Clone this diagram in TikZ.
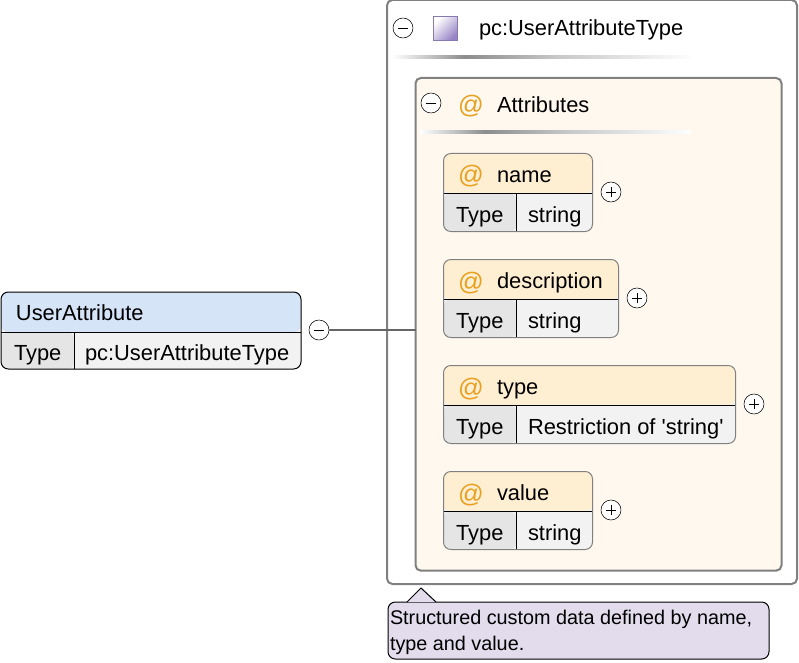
\documentclass[tikz,border=0pt]{standalone}
\usepackage{xcolor}
\usepackage{fontspec}
\setmainfont{Liberation Sans}
\usetikzlibrary{calc,positioning}
\definecolor{FrameGrey}{RGB}{128,128,128}
\definecolor{AttrBack}{RGB}{255,248,238}
\definecolor{AttrHead}{RGB}{255,239,210}
\definecolor{ElemHead}{RGB}{214,228,247}
\definecolor{KeyCell}{RGB}{229,229,229}
\definecolor{ValCell}{RGB}{242,242,242}
\definecolor{TipBack}{RGB}{226,220,236}
\definecolor{AtOrange}{RGB}{232,160,32}
\definecolor{IconEdge}{RGB}{136,120,176}
\definecolor{IconFill}{RGB}{150,130,196}
\pgfdeclarehorizontalshading{sepfade}{100bp}{color(0bp)=(white); color(25bp)=(white);
  color(37bp)=(black!45); color(52bp)=(black!22); color(75bp)=(white); color(100bp)=(white)}

\begin{document}
\begin{tikzpicture} [x=0.75pt, y=-0.75pt, text=black,
	   every node/.style={font=\fontsize{16.4}{19}\selectfont, inner sep=0pt, outer sep=0pt},
	   textlabel/.style = {anchor=base west},
	   atsign/.style = {anchor=base west, text=AtOrange, font=\fontsize{19}{21}\selectfont},
	   expander/.style = {circle, draw=black, fill=white, minimum size=15pt},
	   collapse/.style = {expander, path picture={
	                      \draw[black] ([shift={(5,0)}]path picture bounding box.west) -- ([shift={(-5,0)}]path picture bounding box.east);}},
	   expand/.style = {expander, path picture={
	                      \draw[black] ([shift={(5,0)}]path picture bounding box.west) -- ([shift={(-5,0)}]path picture bounding box.east);
	                      \draw[black] ([shift={(0,5)}]path picture bounding box.north) -- ([shift={(0,-5)}]path picture bounding box.south);}},
	   sepline/.style = {anchor=west, minimum height=1.6pt, shading=sepfade},
	   framebox/.style = {rectangle, rounded corners=4pt, draw=FrameGrey, line width=1.5pt, anchor=north west},
	   groupbox/.style n args = {4}{rectangle, rounded corners=5.5pt, anchor=north west, draw=#2, fill=ValCell,
	                             minimum width=#1*0.75pt, minimum height=#4*0.75pt, line width=0.75pt,
	                             path picture={
	                               \fill[#3] (path picture bounding box.north west) rectangle ([shift={(0,40)}]path picture bounding box.north east);
	                               \fill[KeyCell] ([shift={(0,40)}]path picture bounding box.north west) rectangle ([shift={(73,0)}]path picture bounding box.south west);
	                               \draw[black] ([shift={(0,40)}]path picture bounding box.north west) -- ([shift={(0,40)}]path picture bounding box.north east);
	                               \draw[black] ([shift={(73,40)}]path picture bounding box.north west) -- ([shift={(73,0)}]path picture bounding box.south west);}}]
	\useasboundingbox (0,0) rectangle (799,663);

	%% Type frame
	\node [framebox, minimum width=307.5pt, minimum height=438pt] (typeframe) at (387,0) {};
	\node [collapse] (typecollapse) at (403,28) {};
	\node [draw=IconEdge, line width=0.75pt, minimum size=18pt, left color=white, right color=IconFill, shading angle=45] (typeicon) at (445.5,28.5) {};
	\node [textlabel] (typetitle) at (479,36) {pc:UserAttributeType};
	\node [sepline, minimum width=227pt] (typesep) at (392,57) {};

	%% Attributes frame
	\node [framebox, fill=AttrBack, minimum width=274.5pt, minimum height=369.5pt] (attrs) at (415.5,78) {};
	\node [collapse] (attrscollapse) at (431,103) {};
	\node [atsign] (attrsicon) at (458,114) {@};
	\node [textlabel] (attrstitle) at (497,113) {Attributes};
	\node [sepline, minimum width=203pt] (attrssep) at (420,132) {};

	%% Attribute name
	\node [groupbox={149}{FrameGrey}{AttrHead}{78}] (name) at (443.5,153.5) {};
	\node [atsign] (nameicon) at ([shift={(14.5,30.5)}]name.north west) {@};
	\node [textlabel] (namelabel) at ([shift={(53.5,29)}]name.north west) {name};
	\node [textlabel] (namekey) at ([shift={(12.5,69)}]name.north west) {Type};
	\node [textlabel] (nametype) at ([shift={(84.5,69)}]name.north west) {string};
	\node [expand] (nameexpand) at (611,192) {};

	%% Attribute description
	\node [groupbox={175}{FrameGrey}{AttrHead}{78}] (descr) at (443.5,259.5) {};
	\node [atsign] (descricon) at ([shift={(14.5,30.5)}]descr.north west) {@};
	\node [textlabel] (descrlabel) at ([shift={(53.5,29)}]descr.north west) {description};
	\node [textlabel] (descrkey) at ([shift={(12.5,69)}]descr.north west) {Type};
	\node [textlabel] (descrtype) at ([shift={(84.5,69)}]descr.north west) {string};
	\node [expand] (descrexpand) at (637,298) {};

	%% Attribute type
	\node [groupbox={292}{FrameGrey}{AttrHead}{78}] (kind) at (443.5,365.5) {};
	\node [atsign] (kindicon) at ([shift={(14.5,30.5)}]kind.north west) {@};
	\node [textlabel] (kindlabel) at ([shift={(53.5,29)}]kind.north west) {type};
	\node [textlabel] (kindkey) at ([shift={(12.5,69)}]kind.north west) {Type};
	\node [textlabel] (kindtype) at ([shift={(84.5,69)}]kind.north west) {Restriction of \textquotesingle string\textquotesingle};
	\node [expand] (kindexpand) at (754,404) {};

	%% Attribute value
	\node [groupbox={149}{FrameGrey}{AttrHead}{78}] (value) at (443.5,471.5) {};
	\node [atsign] (valueicon) at ([shift={(14.5,30.5)}]value.north west) {@};
	\node [textlabel] (valuelabel) at ([shift={(53.5,29)}]value.north west) {value};
	\node [textlabel] (valuekey) at ([shift={(12.5,69)}]value.north west) {Type};
	\node [textlabel] (valuetype) at ([shift={(84.5,69)}]value.north west) {string};
	\node [expand] (valueexpand) at (611,510) {};

	%% Element
	\node [groupbox={300}{black}{ElemHead}{77}] (element) at (1,292) {};
	\node [textlabel] (elementlabel) at ([shift={(15,28)}]element.north west) {UserAttribute};
	\node [textlabel] (elementkey) at ([shift={(13,68)}]element.north west) {Type};
	\node [textlabel] (elementtype) at ([shift={(84,68)}]element.north west) {pc:UserAttributeType};
	\node [collapse] (elementcollapse) at (319,330) {};

	%% Note
	\node [rectangle, rounded corners=5.5pt, anchor=north west, draw=black, fill=TipBack, line width=0.75pt,
	       minimum width=285.75pt, minimum height=42.75pt] (note) at (388,602) {};
	\coordinate (noteleft) at ([shift={(19,0)}]note.north west);
	\coordinate (notetip) at ([shift={(33,-14)}]note.north west);
	\coordinate (noteright) at ([shift={(48,0)}]note.north west);
	\fill [TipBack] (noteleft) -- (notetip) -- (noteright) -- cycle;
	\draw [black, line width=0.75pt] (noteleft) -- (notetip) -- (noteright);
	\node [anchor=base west, align=left, font=\fontsize{14.85}{19.5}\selectfont] (notetext) at (390,650) {Structured custom data defined by name,\\type and value.};

	%% Paths
	\draw [black!60, line width=1.5pt] (elementcollapse.east) -- (elementcollapse.east -| attrs.west);
\end{tikzpicture}
\end{document}
